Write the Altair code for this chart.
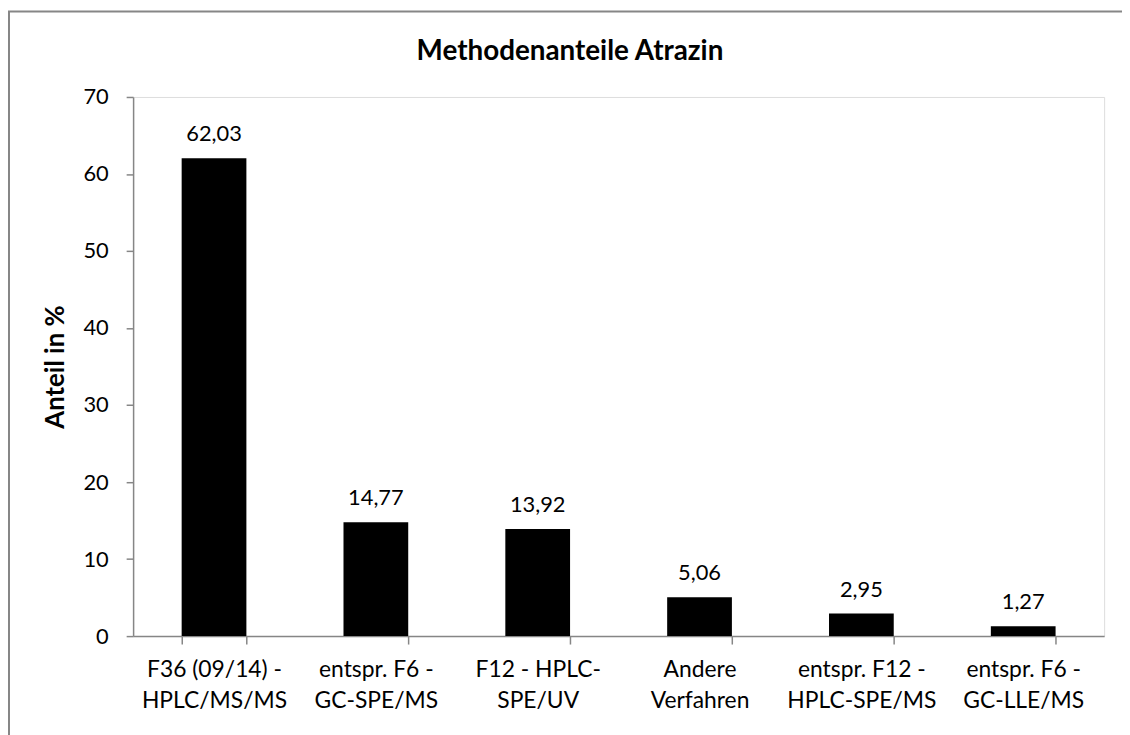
import altair as alt
import pandas as pd

categories = [
    "F36 (09/14) -\nHPLC/MS/MS",
    "entspr. F6 -\nGC-SPE/MS",
    "F12 - HPLC-\nSPE/UV",
    "Andere\nVerfahren",
    "entspr. F12 -\nHPLC-SPE/MS",
    "entspr. F6 -\nGC-LLE/MS",
]
values = [62.03, 14.77, 13.92, 5.06, 2.95, 1.27]
labels = ["62,03", "14,77", "13,92", "5,06", "2,95", "1,27"]
y_ticks = [0, 10, 20, 30, 40, 50, 60, 70]
chart_title = "Methodenanteile Atrazin"

df = pd.DataFrame({"Methode": categories, "Anteil": values, "Label": labels})

FONT = "Lato"
GRAY = "#868686"

x_enc = alt.X(
    "Methode:N",
    sort=categories,
    scale=alt.Scale(paddingInner=0.6, paddingOuter=0.3),
    axis=alt.Axis(
        title=None,
        labelAngle=0,
        labelExpr="split(datum.label, '\\n')",
        labelFont=FONT,
        labelFontSize=23,
        labelColor="#000000",
        labelLineHeight=31,
        labelPadding=15,
        labelBaseline="top",
        tickBand="extent",
        tickSize=8,
        tickColor=GRAY,
        domainColor=GRAY,
        domainWidth=1.5,
        tickWidth=1.5,
        grid=False,
    ),
)

y_enc = alt.Y(
    "Anteil:Q",
    scale=alt.Scale(domain=[0, 70], nice=False),
    axis=alt.Axis(
        title="Anteil in %",
        values=y_ticks,
        titleFont=FONT,
        titleFontSize=26,
        titleFontWeight="bold",
        titleColor="#000000",
        titlePadding=15,
        labelFont=FONT,
        labelFontSize=22,
        labelColor="#000000",
        labelPadding=18,
        tickSize=7,
        tickColor=GRAY,
        domainColor=GRAY,
        domainWidth=1.5,
        tickWidth=1.5,
        grid=False,
    ),
)

bars = alt.Chart(df).mark_bar(color="#000000").encode(x=x_enc, y=y_enc)

texts = alt.Chart(df).mark_text(
    font=FONT, fontSize=22, color="#000000", baseline="bottom", dy=-12
).encode(x=alt.X("Methode:N", sort=categories), y="Anteil:Q", text="Label:N")

frame = alt.Chart(alt.Data(values=[{}])).mark_rect(
    fill=None, stroke=GRAY, strokeWidth=2
).encode(
    x=alt.value(-125), x2=alt.value(1200), y=alt.value(-86), y2=alt.value(800)
)

title_mark = alt.Chart(alt.Data(values=[{"t": chart_title}])).mark_text(
    font=FONT, fontSize=28, fontWeight="bold", color="#000000",
    align="center", baseline="middle"
).encode(x=alt.value(440), y=alt.value(-45), text="t:N")

chart = (
    alt.layer(frame, bars, texts, title_mark)
    .properties(
        width=978,
        height=543,
        autosize=alt.AutoSizeParams(type="none"),
        padding={"left": 126, "top": 87, "right": 18, "bottom": 97},
    )
    .configure_view(stroke=None)
    .configure(background="white")
)

chart.save("out.html", embed_options={"renderer": "svg", "actions": False})
